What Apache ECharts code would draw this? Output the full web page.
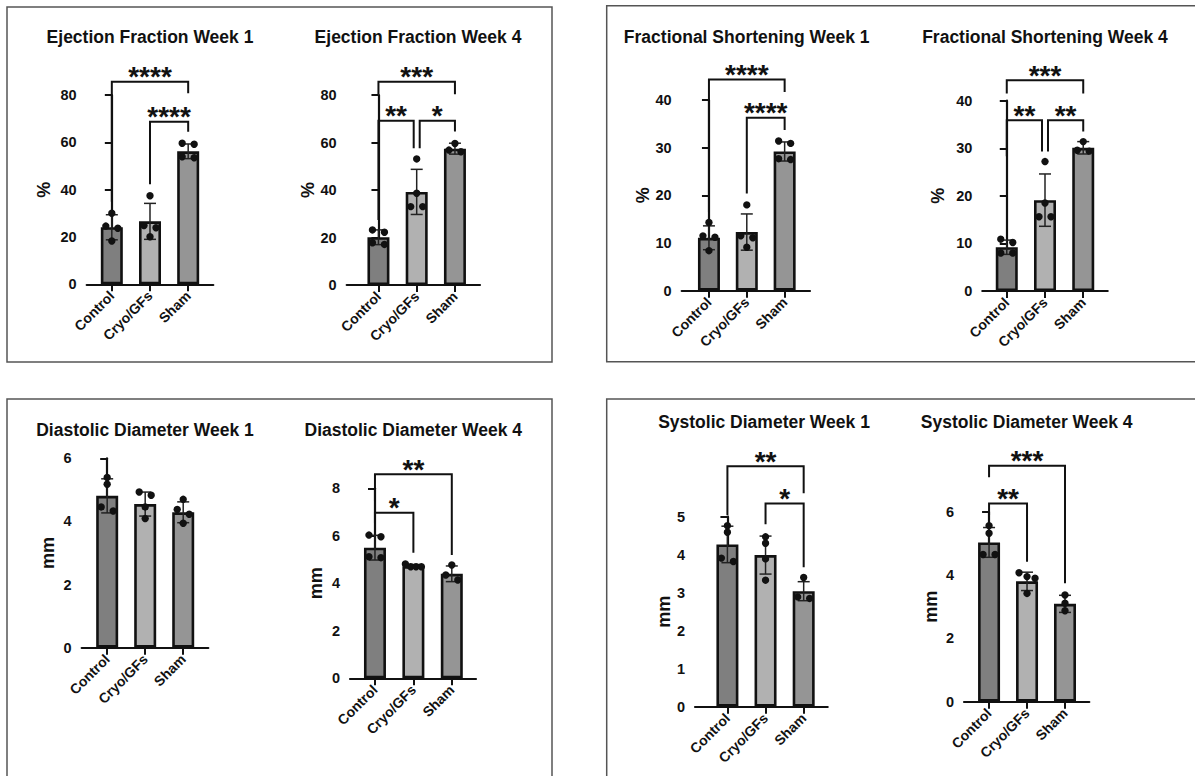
<!DOCTYPE html>
<html>
<head>
<meta charset="utf-8">
<script src="https://cdn.jsdelivr.net/npm/echarts@6/dist/echarts.min.js"></script>
<style>
html,body{margin:0;padding:0;background:#fff;}
#c{width:1195px;height:776px;}
</style>
</head>
<body>
<div id="c"></div>
<script>
// ---------------- DATA ----------------
const categories = ['Control', 'Cryo/GFs', 'Sham'];
const titles = ['Ejection Fraction Week 1', 'Ejection Fraction Week 4',
  'Fractional Shortening Week 1', 'Fractional Shortening Week 4',
  'Diastolic Diameter Week 1', 'Diastolic Diameter Week 4',
  'Systolic Diameter Week 1', 'Systolic Diameter Week 4'];
const yNames = ['%', '%', '%', '%', 'mm', 'mm', 'mm', 'mm'];
const yMax = [80, 80, 40, 40, 6, 8, 5, 6];
const yStep = [20, 20, 10, 10, 2, 2, 1, 2];

const efW1Mean = [24.1, 26.6, 56.2];
const efW1Sd = [5.3, 7.6, 3.1];
const efW1Points = [[30.0, 24.6, 23.7, 18.3], [37.4, 24.8, 23.9, 20.1], [59.2, 59.6, 53.5, 53.9]];
const efW1Brackets = [[0, 2, 85.6, 34.9, 80.7], [1, 2, 68.7, 42.3, 64.5]];
const efW1Stars = ['****', '****'];

const efW4Mean = [20.1, 39.2, 57.4];
const efW4Sd = [3.1, 9.5, 2.3];
const efW4Points = [[22.2, 23.2, 17.1, 17.8], [53.1, 38.6, 33.0, 33.0], [59.6, 56.1, 56.8]];
const efW4Brackets = [[0, 2, 85.6, 80.3, 80.3], [0, 1, 69.2, 27.4, 57.6], [1, 2, 69.2, 57.6, 64.6]];
const efW4Stars = ['***', '**', '*'];

const fsW1Mean = [11.1, 12.3, 29.2];
const fsW1Sd = [2.5, 3.8, 2.0];
const fsW1Points = [[14.3, 11.5, 11.2, 8.4], [18.0, 11.5, 11.1, 9.1], [30.9, 31.4, 27.5, 27.7]];
const fsW1Brackets = [[0, 2, 44.3, 16.4, 41.7], [1, 2, 36.3, 20.4, 33.7]];
const fsW1Stars = ['****', '****'];

const fsW4Mean = [9.2, 19.1, 30.1];
const fsW4Sd = [1.5, 5.5, 1.3];
const fsW4Points = [[10.2, 10.9, 8.0, 8.0], [27.2, 18.5, 15.6, 15.6], [31.4, 29.4, 29.6]];
const fsW4Brackets = [[0, 2, 44.3, 41.5, 41.5], [0, 1, 35.9, 28.3, 29.3], [1, 2, 35.9, 29.3, 33.5]];
const fsW4Stars = ['***', '**', '**'];

const ddW1Mean = [4.81, 4.55, 4.29];
const ddW1Sd = [0.54, 0.38, 0.33];
const ddW1Points = [[5.39, 5.18, 4.33, 4.46], [4.83, 4.93, 4.46, 4.09], [4.70, 4.38, 4.23, 3.94]];
const ddW1Brackets = [];
const ddW1Stars = [];

const ddW4Mean = [5.50, 4.72, 4.40];
const ddW4Sd = [0.52, 0.07, 0.33];
const ddW4Points = [[5.96, 6.03, 5.08, 5.12], [4.70, 4.81, 4.70, 4.70], [4.77, 4.14, 4.35]];
const ddW4Brackets = [[0, 2, 8.59, 7.44, 5.19], [0, 1, 6.97, 6.53, 5.29]];
const ddW4Stars = ['**', '*'];

const sdW1Mean = [4.27, 3.99, 3.04];
const sdW1Sd = [0.48, 0.50, 0.25];
const sdW1Points = [[4.76, 4.59, 3.82, 3.91], [4.47, 4.30, 3.89, 3.33], [3.40, 2.85, 2.89]];
const sdW1Brackets = [[0, 2, 6.33, 5.04, 5.62], [1, 2, 5.35, 4.80, 3.67]];
const sdW1Stars = ['**', '*'];

const sdW4Mean = [5.03, 3.80, 3.09];
const sdW4Sd = [0.47, 0.29, 0.27];
const sdW4Points = [[5.56, 5.32, 4.65, 4.65], [3.95, 4.07, 3.90, 3.42], [3.37, 3.11, 2.87]];
const sdW4Brackets = [[0, 2, 7.45, 7.09, 3.74], [0, 1, 6.26, 5.89, 4.42]];
const sdW4Stars = ['***', '**'];

const panels = [
  {mean: efW1Mean, sd: efW1Sd, pts: efW1Points, br: efW1Brackets, stars: efW1Stars},
  {mean: efW4Mean, sd: efW4Sd, pts: efW4Points, br: efW4Brackets, stars: efW4Stars},
  {mean: fsW1Mean, sd: fsW1Sd, pts: fsW1Points, br: fsW1Brackets, stars: fsW1Stars},
  {mean: fsW4Mean, sd: fsW4Sd, pts: fsW4Points, br: fsW4Brackets, stars: fsW4Stars},
  {mean: ddW1Mean, sd: ddW1Sd, pts: ddW1Points, br: ddW1Brackets, stars: ddW1Stars},
  {mean: ddW4Mean, sd: ddW4Sd, pts: ddW4Points, br: ddW4Brackets, stars: ddW4Stars},
  {mean: sdW1Mean, sd: sdW1Sd, pts: sdW1Points, br: sdW1Brackets, stars: sdW1Stars},
  {mean: sdW4Mean, sd: sdW4Sd, pts: sdW4Points, br: sdW4Brackets, stars: sdW4Stars}
];

// ---------------- LAYOUT & STYLE ----------------
const layout = [
  {left: 86.7, top: 95, width: 126.6, height: 189.3, xMin: -0.658, xMax: 2.658, nameGap: 34, tx: 150, ty: 37},
  {left: 346.7, top: 95, width: 133.3, height: 190, xMin: -0.83, xMax: 2.655, nameGap: 26, tx: 418, ty: 37},
  {left: 681.7, top: 100, width: 128.3, height: 190.7, xMin: -0.72, xMax: 2.67, nameGap: 30, tx: 746.7, ty: 37},
  {left: 982.3, top: 100.7, width: 125.4, height: 190.3, xMin: -0.64, xMax: 2.64, nameGap: 35, tx: 1045, ty: 37},
  {left: 81.7, top: 458.3, width: 126.6, height: 189.4, xMin: -0.67, xMax: 2.66, nameGap: 25, tx: 145, ty: 430},
  {left: 350, top: 488.3, width: 126, height: 190, xMin: -0.65, xMax: 2.63, nameGap: 25, tx: 413.3, ty: 430},
  {left: 695, top: 516.7, width: 132.7, height: 190, xMin: -0.85, xMax: 2.63, nameGap: 17, tx: 764, ty: 421.7},
  {left: 964, top: 511.7, width: 125.3, height: 190, xMin: -0.66, xMax: 2.64, nameGap: 24, tx: 1026.7, ty: 421.7}
];
const boxes = [
  {x: 7, y: 7, w: 545, h: 355},
  {x: 606.7, y: 5.7, w: 620, h: 356},
  {x: 7, y: 399, w: 545, h: 420},
  {x: 606.7, y: 399, w: 620, h: 420}
];
const barColors = ['#7f7f7f', '#b1b1b1', '#959595'];
const INK = '#111';
const FONT = '"Liberation Sans", Arial, Helvetica, sans-serif';
const STAR_FONT = 'bold 28px "Liberation Sans", Arial, sans-serif';

// ---------------- BUILD ----------------
function swarmOffsets(pixYs) {
  const order = pixYs.map((y, i) => i).sort((a, b) => pixYs[a] - pixYs[b]);
  const groups = [];
  let cur = [order[0]];
  for (let k = 1; k < order.length; k++) {
    if (pixYs[order[k]] - pixYs[order[k - 1]] < 6) cur.push(order[k]);
    else { groups.push(cur); cur = [order[k]]; }
  }
  groups.push(cur);
  const off = [];
  groups.forEach(g => {
    const n = g.length;
    const sp = n > 1 ? Math.min(12, 16 / (n - 1)) : 0;
    g.forEach((id, j) => { off[id] = (j - (n - 1) / 2) * sp; });
  });
  return off;
}

const grids = [], xAxes = [], yAxes = [], series = [], graphics = [];

boxes.forEach(b => graphics.push({
  type: 'rect', silent: true, shape: {x: b.x, y: b.y, width: b.w, height: b.h},
  style: {fill: 'none', stroke: '#555', lineWidth: 1.5}
}));

panels.forEach((p, k) => {
  const L = layout[k];
  grids.push({left: L.left, top: L.top, width: L.width, height: L.height, containLabel: false});
  xAxes.push({
    type: 'value', gridIndex: k, min: L.xMin, max: L.xMax,
    splitLine: {show: false},
    axisLine: {show: true, onZero: false, lineStyle: {color: INK, width: 2.2}},
    axisTick: {show: true, customValues: [0, 1, 2], length: 7, lineStyle: {color: INK, width: 2}},
    axisLabel: {show: true, customValues: [0, 1, 2], formatter: v => categories[Math.round(v)],
      rotate: 45, margin: 9, color: INK, fontWeight: 'bold', fontSize: 14, fontFamily: FONT}
  });
  yAxes.push({
    type: 'value', gridIndex: k, min: 0, max: yMax[k], interval: yStep[k],
    name: yNames[k], nameLocation: 'middle', nameGap: L.nameGap,
    nameTextStyle: {color: INK, fontWeight: 'bold', fontSize: 18, fontFamily: FONT},
    splitLine: {show: false},
    axisLine: {show: true, lineStyle: {color: INK, width: 2.2}},
    axisTick: {show: true, length: 7, lineStyle: {color: INK, width: 2}},
    axisLabel: {color: INK, fontWeight: 'bold', fontSize: 14.5, margin: 10, fontFamily: FONT}
  });
  graphics.push({
    type: 'text', silent: true, x: L.tx, y: L.ty,
    style: {text: titles[k], fill: INK, font: 'bold 17.5px ' + FONT, align: 'center', verticalAlign: 'middle'}
  });

  // bars
  series.push({
    type: 'bar', xAxisIndex: k, yAxisIndex: k, barWidth: 22, z: 2,
    data: p.mean.map((m, i) => ({value: [i, m], itemStyle: {color: barColors[i]}})),
    itemStyle: {borderColor: INK, borderWidth: 2.6},
    emphasis: {disabled: true}
  });
  // error bars (mean ± SD)
  series.push({
    type: 'custom', xAxisIndex: k, yAxisIndex: k, z: 3, clip: false,
    data: p.mean.map((m, i) => [i, m, p.sd[i]]),
    renderItem: (params, api) => {
      const x = api.value(0), m = api.value(1), s = api.value(2);
      const t = api.coord([x, m + s]), b = api.coord([x, m - s]);
      const st = {stroke: '#222', lineWidth: 1.5};
      const cw = 6;
      return {type: 'group', children: [
        {type: 'line', shape: {x1: t[0], y1: t[1], x2: b[0], y2: b[1]}, style: st},
        {type: 'line', shape: {x1: t[0] - cw, y1: t[1], x2: t[0] + cw, y2: t[1]}, style: st},
        {type: 'line', shape: {x1: b[0] - cw, y1: b[1], x2: b[0] + cw, y2: b[1]}, style: st}
      ]};
    }
  });
  // individual points
  const ptData = [];
  p.pts.forEach((arr, g) => arr.forEach((v, j) => ptData.push([g, v, j])));
  series.push({
    type: 'custom', xAxisIndex: k, yAxisIndex: k, z: 4, clip: false,
    data: ptData,
    renderItem: (params, api) => {
      const g = api.value(0), v = api.value(1), j = api.value(2);
      const ys = p.pts[g].map(val => api.coord([g, val])[1]);
      const off = swarmOffsets(ys);
      const c = api.coord([g, v]);
      return {type: 'circle', shape: {cx: c[0] + off[j], cy: c[1], r: 3.7}, style: {fill: INK}};
    }
  });
  // significance brackets
  if (p.br.length) {
    const brData = p.br.map(b => {
      const insL = p.br.some(o => o !== b && o[1] === b[0] && Math.abs(o[2] - b[2]) < 1e-6) ? 3 : 0;
      const insR = p.br.some(o => o !== b && o[0] === b[1] && Math.abs(o[2] - b[2]) < 1e-6) ? 3 : 0;
      return [b[0], b[1], b[2], b[3], b[4], insL, insR];
    });
    series.push({
      type: 'custom', xAxisIndex: k, yAxisIndex: k, z: 5, clip: false,
      data: brData,
      renderItem: (params, api) => {
        const f = api.value(0), t = api.value(1), top = api.value(2), le = api.value(3), re = api.value(4);
        const insL = api.value(5), insR = api.value(6);
        const pl = api.coord([f, le]), tl = api.coord([f, top]), pr = api.coord([t, re]);
        const xl = pl[0] + insL, xr = pr[0] - insR;
        return {type: 'group', children: [
          {type: 'polyline', shape: {points: [[xl, pl[1]], [xl, tl[1]], [xr, tl[1]], [xr, pr[1]]]},
            style: {stroke: INK, lineWidth: 2, fill: 'none'}},
          {type: 'text', x: (xl + xr) / 2, y: tl[1] - 5,
            style: {text: p.stars[params.dataIndex], font: STAR_FONT, fill: INK, align: 'center', verticalAlign: 'middle'}}
        ]};
      }
    });
  }
});

const chart = echarts.init(document.getElementById('c'), null, {renderer: 'svg'});
chart.setOption({
  animation: false,
  backgroundColor: '#fff',
  grid: grids, xAxis: xAxes, yAxis: yAxes, series: series,
  graphic: graphics
});
</script>
</body>
</html>
